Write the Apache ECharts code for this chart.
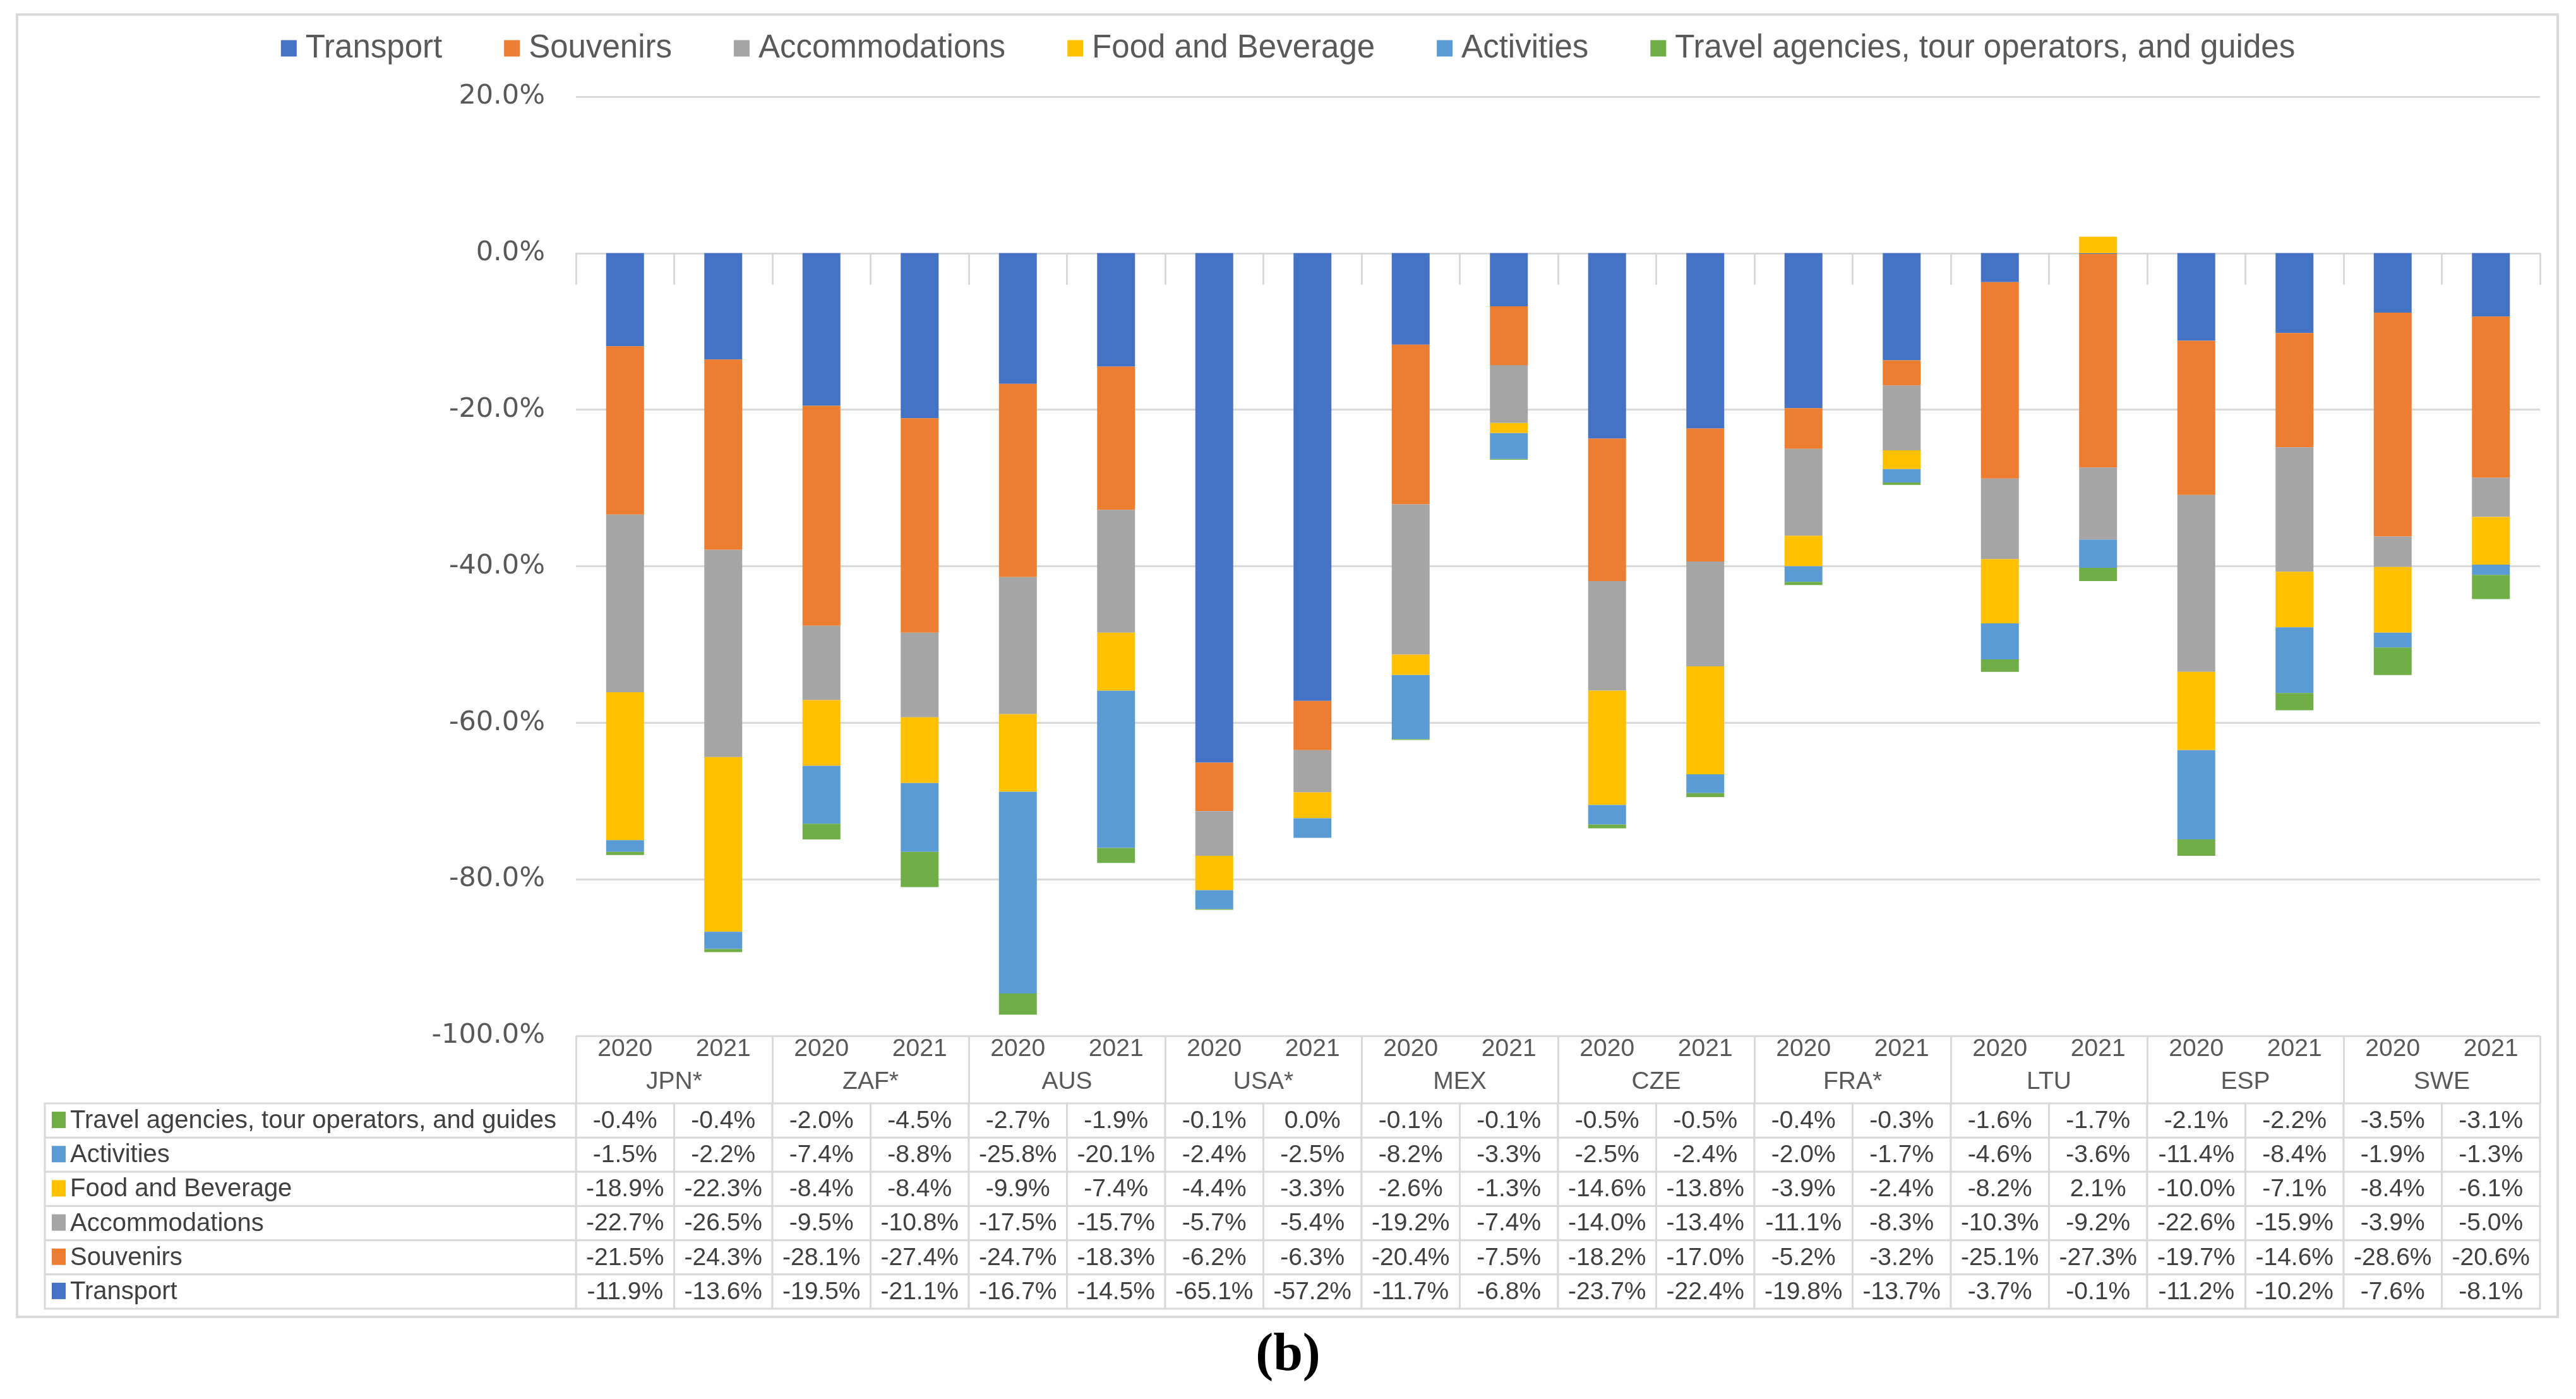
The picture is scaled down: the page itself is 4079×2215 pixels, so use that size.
<!DOCTYPE html>
<html><head><meta charset="utf-8">
<script src="https://cdn.jsdelivr.net/npm/echarts@6/dist/echarts.min.js"></script>
<style>html,body{margin:0;padding:0;background:#fff}#c{width:4079px;height:2215px}</style>
</head><body><div id="c"></div>
<script>
// ---- data ----
const countries = ['JPN*','ZAF*','AUS','USA*','MEX','CZE','FRA*','LTU','ESP','SWE'];
const yearLabels = ['2020','2021'];
const categories = countries.flatMap(() => yearLabels);
const seriesNames = ['Transport','Souvenirs','Accommodations','Food and Beverage','Activities','Travel agencies, tour operators, and guides'];
const transport      = [-11.9,-13.6,-19.5,-21.1,-16.7,-14.5,-65.1,-57.2,-11.7,-6.8,-23.7,-22.4,-19.8,-13.7,-3.7,-0.1,-11.2,-10.2,-7.6,-8.1];
const souvenirs      = [-21.5,-24.3,-28.1,-27.4,-24.7,-18.3,-6.2,-6.3,-20.4,-7.5,-18.2,-17.0,-5.2,-3.2,-25.1,-27.3,-19.7,-14.6,-28.6,-20.6];
const accommodations = [-22.7,-26.5,-9.5,-10.8,-17.5,-15.7,-5.7,-5.4,-19.2,-7.4,-14.0,-13.4,-11.1,-8.3,-10.3,-9.2,-22.6,-15.9,-3.9,-5.0];
const foodBeverage   = [-18.9,-22.3,-8.4,-8.4,-9.9,-7.4,-4.4,-3.3,-2.6,-1.3,-14.6,-13.8,-3.9,-2.4,-8.2,2.1,-10.0,-7.1,-8.4,-6.1];
const activities     = [-1.5,-2.2,-7.4,-8.8,-25.8,-20.1,-2.4,-2.5,-8.2,-3.3,-2.5,-2.4,-2.0,-1.7,-4.6,-3.6,-11.4,-8.4,-1.9,-1.3];
const travelAgencies = [-0.4,-0.4,-2.0,-4.5,-2.7,-1.9,-0.1,0.0,-0.1,-0.1,-0.5,-0.5,-0.4,-0.3,-1.6,-1.7,-2.1,-2.2,-3.5,-3.1];
const yMin = -100, yMax = 20, yStep = 20;

// ---- styles ----
const colors = ['#4472C4','#ED7D31','#A5A5A5','#FFC000','#5B9BD5','#70AD47'];
const seriesValues = [transport, souvenirs, accommodations, foodBeverage, activities, travelAgencies];
const GRID_LEFT = 912, GRID_RIGHT = 57;
const LABEL_COL_LEFT = 71;
const LINE = '#D9D9D9';
const SANS = 'Liberation Sans, Arial, sans-serif';

// table rows are listed bottom series first
const tableOrder = [5,4,3,2,1,0];
const cellData = [];
tableOrder.forEach((si, r) => seriesValues[si].forEach((v, c) => cellData.push([c, r, v])));
const labelData = tableOrder.map((si, r) => [0, r, si]);

const chart = echarts.init(document.getElementById('c'), null, {renderer:'canvas'});
const barSeries = seriesNames.map((n, i) => ({
  name: n, type: 'bar', stack: 'total', barWidth: 60,
  xAxisIndex: 0, yAxisIndex: 0,
  itemStyle: {color: colors[i]},
  data: seriesValues[i]
}));

chart.setOption({
  animation: false,
  backgroundColor: '#fff',
  title: {
    text: '{p|(}{b|b}{p|)}', left: 'center', top: 2100,
    textStyle: {rich: {
      p: {fontFamily: 'Liberation Serif, serif', fontSize: 84, color: '#000'},
      b: {fontFamily: 'Liberation Serif, serif', fontSize: 84, fontWeight: 'bold', color: '#000'}
    }}
  },
  graphic: [{
    type: 'rect', silent: true, z: -10,
    shape: {x: 27, y: 23, width: 4023, height: 2062},
    style: {fill: 'none', stroke: LINE, lineWidth: 4}
  }],
  legend: {
    data: seriesNames, top: 51, left: 'center', padding: 0,
    icon: 'rect', itemWidth: 25, itemHeight: 26, itemGap: 98,
    textStyle: {fontSize: 51, color: '#595959', fontFamily: SANS, padding: [0,0,0,9]}
  },
  grid: [
    {left: GRID_LEFT, right: GRID_RIGHT, top: 153, bottom: 2215 - 1640},
    {left: GRID_LEFT, right: GRID_RIGHT, top: 1747, height: 325}
  ],
  xAxis: [
    {type: 'category', gridIndex: 0, position: 'bottom', data: categories,
     axisLine: {show: true, lineStyle: {color: LINE, width: 3}},
     axisTick: {show: true, interval: 0, length: 50, lineStyle: {color: LINE, width: 3}},
     axisLabel: {interval: 0, margin: 2, fontSize: 39, color: '#595959', fontFamily: SANS}},
    {type: 'category', gridIndex: 0, position: 'bottom', data: countries,
     axisLine: {show: false},
     axisTick: {show: true, interval: 0, length: 107, lineStyle: {color: LINE, width: 3}},
     axisLabel: {interval: 0, margin: 54, fontSize: 39, color: '#595959', fontFamily: SANS}},
    {type: 'category', gridIndex: 1, data: categories, show: false}
  ],
  yAxis: [
    {type: 'value', gridIndex: 0, min: yMin, max: yMax, interval: yStep,
     axisLine: {show: false}, axisTick: {show: false},
     splitLine: {lineStyle: {color: LINE, width: 3}},
     axisLabel: {margin: 49, fontSize: 43, color: '#595959', fontFamily: 'DejaVu Sans, sans-serif',
                 formatter: v => v.toFixed(1) + '%'}},
    {type: 'category', gridIndex: 1, inverse: true, data: tableOrder.map(i => seriesNames[i]), show: false}
  ],
  series: barSeries.concat([
    {
      name: 'tableCells', type: 'custom', xAxisIndex: 2, yAxisIndex: 1, data: cellData,
      renderItem: (params, api) => {
        const p = api.coord([api.value(0), api.value(1)]);
        const s = api.size([1, 1]);
        return {type: 'group', children: [
          {type: 'rect', shape: {x: p[0]-s[0]/2, y: p[1]-s[1]/2, width: s[0], height: s[1]},
           style: {fill: '#fff', stroke: LINE, lineWidth: 3}},
          {type: 'text', style: {text: api.value(2).toFixed(1) + '%', x: p[0], y: p[1]+1,
           align: 'center', verticalAlign: 'middle', fontSize: 39, fontFamily: SANS, fill: '#404040'}}
        ]};
      }
    },
    {
      name: 'tableLabels', type: 'custom', xAxisIndex: 2, yAxisIndex: 1, data: labelData,
      renderItem: (params, api) => {
        const p = api.coord([api.value(0), api.value(1)]);
        const s = api.size([1, 1]);
        const right = p[0] - s[0]/2;
        const si = api.value(2);
        return {type: 'group', children: [
          {type: 'rect', shape: {x: LABEL_COL_LEFT, y: p[1]-s[1]/2, width: right - LABEL_COL_LEFT, height: s[1]},
           style: {fill: '#fff', stroke: LINE, lineWidth: 3}},
          {type: 'rect', shape: {x: LABEL_COL_LEFT + 11, y: p[1]-14, width: 22, height: 26},
           style: {fill: colors[si]}},
          {type: 'text', style: {text: seriesNames[si], x: LABEL_COL_LEFT + 40, y: p[1]+1,
           align: 'left', verticalAlign: 'middle', fontSize: 40, fontFamily: SANS, fill: '#404040'}}
        ]};
      }
    }
  ])
});
</script></body></html>
